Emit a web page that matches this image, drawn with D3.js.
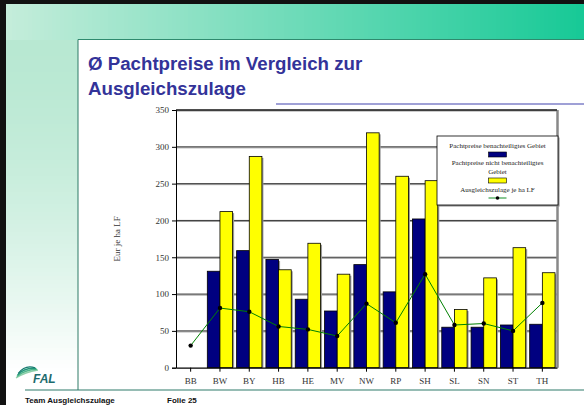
<!DOCTYPE html>
<html lang="de">
<head>
<meta charset="UTF-8">
<title>Pachtpreise im Vergleich zur Ausgleichszulage</title>
<script src="https://d3js.org/d3.v7.min.js"></script>
<style>
    body { margin: 0; background: #fff; }
    .tick-label { font-family: "Liberation Serif", "Times New Roman", serif; font-size: 9px; fill: #333; }
    .legend-text { font-family: "Liberation Serif", "Times New Roman", serif; font-size: 7px; fill: #222; }
</style>
</head>
<body>
<svg id="slide" width="584" height="405"></svg>
<script>
    // data
    const laender = ["BB", "BW", "BY", "HB", "HE", "MV", "NW", "RP", "SH", "SL", "SN", "ST", "TH"];
    const benachteiligt = [null, 131, 159, 147, 93, 77, 140, 103, 202, 55, 55, 58, 59];
    const nichtBenachteiligt = [null, 212, 287, 133, 169, 127, 319, 260, 254, 79, 122, 163, 129];
    const ausgleichszulage = [30, 81, 76, 56, 52, 43, 87, 61, 127, 58, 60, 50, 88];
    const yTicks = [0, 50, 100, 150, 200, 250, 300, 350];
    const seriesNames = ["Pachtpreise benachteiligtes Gebiet", "Pachtpreise nicht benachteiligtes Gebiet", "Ausgleichszulage je ha LF"];

    const svg = d3.select("#slide");

    // slide background: gradient built from thin strips
    const topSteps = d3.range(0, 584, 4);
    const topColor = d3.interpolateRgb("#c6eddb", "#16c996");
    svg.selectAll(".top-strip").data(topSteps).enter().append("rect")
        .attr("x", d => d).attr("y", 0).attr("width", 4.5).attr("height", 40)
        .attr("fill", d => topColor(d / 584));
    const leftSteps = d3.range(40, 405, 4);
    const leftColor = d3.interpolateRgb("#b8e8d2", "#ffffff");
    svg.selectAll(".left-strip").data(leftSteps).enter().append("rect")
        .attr("x", 0).attr("y", d => d).attr("width", 78).attr("height", 4.5)
        .attr("fill", d => leftColor(Math.min(1, Math.pow((d - 40) / 330, 1.6))));

    // slide frame
    svg.append("rect").attr("x", 0).attr("y", 0).attr("width", 584).attr("height", 4).attr("fill", "#111");
    svg.append("rect").attr("x", 0).attr("y", 0).attr("width", 6).attr("height", 405).attr("fill", "#111");
    svg.append("rect").attr("x", 78).attr("y", 40).attr("width", 506).attr("height", 350).attr("fill", "#fff");
    svg.append("line").attr("x1", 78).attr("x2", 584).attr("y1", 39.5).attr("y2", 39.5)
        .attr("stroke", "#2f8a6e").attr("stroke-width", 1.2);
    svg.append("line").attr("x1", 78).attr("x2", 78).attr("y1", 39.5).attr("y2", 390)
        .attr("stroke", "#2f7a66").attr("stroke-width", 1);
    svg.append("line").attr("x1", 25).attr("x2", 584).attr("y1", 390).attr("y2", 390)
        .attr("stroke", "#2f7a6a").attr("stroke-width", 1.2);

    // title
    const title = svg.append("text")
        .attr("font-family", "Liberation Sans, Arial, sans-serif")
        .attr("font-weight", "bold").attr("font-size", 18.7).attr("fill", "#333399");
    title.append("tspan").attr("x", 88).attr("y", 70).text("Ø Pachtpreise im Vergleich zur");
    title.append("tspan").attr("x", 88).attr("y", 95).text("Ausgleichszulage");
    svg.append("line").attr("x1", 276).attr("x2", 584).attr("y1", 104).attr("y2", 104)
        .attr("stroke", "#7f80c8").attr("stroke-width", 1.3);

    // footer
    svg.append("text").attr("x", 25).attr("y", 403)
        .attr("font-family", "Liberation Sans, Arial, sans-serif").attr("font-weight", "bold")
        .attr("font-size", 8).attr("fill", "#111").text("Team Ausgleichszulage");
    svg.append("text").attr("x", 167).attr("y", 403)
        .attr("font-family", "Liberation Sans, Arial, sans-serif").attr("font-weight", "bold")
        .attr("font-size", 8).attr("fill", "#111").text("Folie 25");

    // FAL logo
    const logo = svg.append("g");
    [[0, "#8fd0aa"], [2.5, "#4fb68a"], [5, "#23977a"], [7.5, "#167a6f"]].forEach(([dy, c]) => {
        logo.append("path")
            .attr("d", `M${16 + dy * 0.3},${378 - dy * 0.6} Q${25},${372 - dy} ${38 - dy * 0.4},${370 - dy * 0.3}`)
            .attr("fill", "none").attr("stroke", c).attr("stroke-width", 1.3);
    });
    logo.append("text").attr("x", 33).attr("y", 383)
        .attr("font-family", "Liberation Sans, Arial, sans-serif").attr("font-weight", "bold")
        .attr("font-style", "italic").attr("font-size", 12).attr("fill", "#1d6b6e").text("FAL");

    // chart
    const plot = {left: 176, right: 557, top: 110, bottom: 367.7};

    const x0 = d3.scaleBand().domain(laender).range([plot.left, plot.right]);
    const x1 = d3.scaleBand().domain(["b", "n"]).range([2, x0.bandwidth() - 2]);
    const y = d3.scaleLinear().domain([0, 350]).range([plot.bottom, plot.top]);

    const chart = svg.append("g");

    // gridlines
    chart.selectAll(".grid-shadow").data(yTicks.filter(d => d > 0)).enter().append("line")
        .attr("x1", plot.left).attr("x2", plot.right)
        .attr("y1", d => y(d) + 1).attr("y2", d => y(d) + 1)
        .attr("stroke", "#999").attr("stroke-width", 1);
    chart.selectAll(".grid").data(yTicks.filter(d => d > 0)).enter().append("line")
        .attr("x1", plot.left).attr("x2", plot.right)
        .attr("y1", d => y(d)).attr("y2", d => y(d))
        .attr("stroke", "#222").attr("stroke-width", 0.9);
    // right edge shadow
    chart.append("line").attr("x1", plot.right + 0.5).attr("x2", plot.right + 0.5)
        .attr("y1", plot.top).attr("y2", plot.bottom)
        .attr("stroke", "#888").attr("stroke-width", 2.5);

    const bars = laender.map((k, i) => [
        {k, s: "b", v: benachteiligt[i], fill: "#000080"},
        {k, s: "n", v: nichtBenachteiligt[i], fill: "#ffff00"}
    ]).flat().filter(d => d.v != null);

    // bar shadows
    chart.selectAll(".bar-shadow").data(bars).enter().append("rect")
        .attr("x", d => x0(d.k) + x1(d.s) + 1.5)
        .attr("y", d => y(d.v) + 1.5)
        .attr("width", x1.bandwidth())
        .attr("height", d => y(0) - y(d.v) - 1.5)
        .attr("fill", "#999");
    chart.selectAll(".bar").data(bars).enter().append("rect")
        .attr("x", d => x0(d.k) + x1(d.s))
        .attr("y", d => y(d.v))
        .attr("width", x1.bandwidth())
        .attr("height", d => y(0) - y(d.v))
        .attr("fill", d => d.fill)
        .attr("stroke", "#000").attr("stroke-width", 0.8);

    // line series
    const pts = laender.map((k, i) => ({k, v: ausgleichszulage[i]}));
    const line = d3.line().x(d => x0(d.k) + x0.bandwidth() / 2).y(d => y(d.v));
    chart.append("path").datum(pts).attr("d", line)
        .attr("fill", "none").attr("stroke", "#008000").attr("stroke-width", 1);
    chart.selectAll(".pt").data(pts).enter().append("circle")
        .attr("cx", d => x0(d.k) + x0.bandwidth() / 2)
        .attr("cy", d => y(d.v)).attr("r", 2.2).attr("fill", "#000");

    // axes
    const yAxis = chart.append("g").attr("transform", `translate(${plot.left},0)`)
        .call(d3.axisLeft(y).tickValues(yTicks).tickSize(4).tickPadding(3));
    yAxis.selectAll("path, line").attr("stroke", "#000");
    yAxis.selectAll("text").attr("class", "tick-label").attr("font-family", null).attr("font-size", null);
    const xAxis = chart.append("g").attr("transform", `translate(0,${plot.bottom})`)
        .call(d3.axisBottom(x0).tickSize(4).tickPadding(6).tickSizeOuter(0));
    xAxis.select(".domain").attr("stroke", "#000").attr("stroke-width", 1.2);
    xAxis.selectAll("line").attr("stroke", "#000");
    xAxis.selectAll("text").attr("class", "tick-label").attr("font-family", null).attr("font-size", null);
    chart.append("line").attr("x1", plot.left).attr("x2", plot.right)
        .attr("y1", plot.top).attr("y2", plot.top).attr("stroke", "#000");

    svg.append("text").attr("class", "tick-label")
        .attr("transform", `translate(120,${(plot.top + plot.bottom) / 2}) rotate(-90)`)
        .attr("text-anchor", "middle").text("Eur je ha LF");

    // legend
    const lg = svg.append("g").attr("transform", "translate(437,136)");
    lg.append("rect").attr("x", 1.5).attr("y", 1.5).attr("width", 121).attr("height", 69).attr("fill", "#888");
    lg.append("rect").attr("width", 121).attr("height", 69).attr("fill", "#fff")
        .attr("stroke", "#000").attr("stroke-width", 0.8);
    const cx = 60.5;
    lg.append("text").attr("class", "legend-text").attr("x", cx).attr("y", 11.5)
        .attr("text-anchor", "middle").text(seriesNames[0]);
    lg.append("rect").attr("x", cx - 9).attr("y", 16).attr("width", 18).attr("height", 5)
        .attr("fill", "#000080").attr("stroke", "#000").attr("stroke-width", 0.6);
    lg.append("text").attr("class", "legend-text").attr("x", cx).attr("y", 29)
        .attr("text-anchor", "middle").text("Pachtpreise nicht benachteiligtes");
    lg.append("text").attr("class", "legend-text").attr("x", cx).attr("y", 37.5)
        .attr("text-anchor", "middle").text("Gebiet");
    lg.append("rect").attr("x", cx - 9).attr("y", 42).attr("width", 18).attr("height", 5)
        .attr("fill", "#ffff00").attr("stroke", "#000").attr("stroke-width", 0.6);
    lg.append("text").attr("class", "legend-text").attr("x", cx).attr("y", 55.5)
        .attr("text-anchor", "middle").text(seriesNames[2]);
    lg.append("line").attr("x1", cx - 9).attr("x2", cx + 9).attr("y1", 62).attr("y2", 62)
        .attr("stroke", "#3aa04a").attr("stroke-width", 1.2);
    lg.append("circle").attr("cx", cx).attr("cy", 62).attr("r", 1.8).attr("fill", "#000");
</script>
</body>
</html>
